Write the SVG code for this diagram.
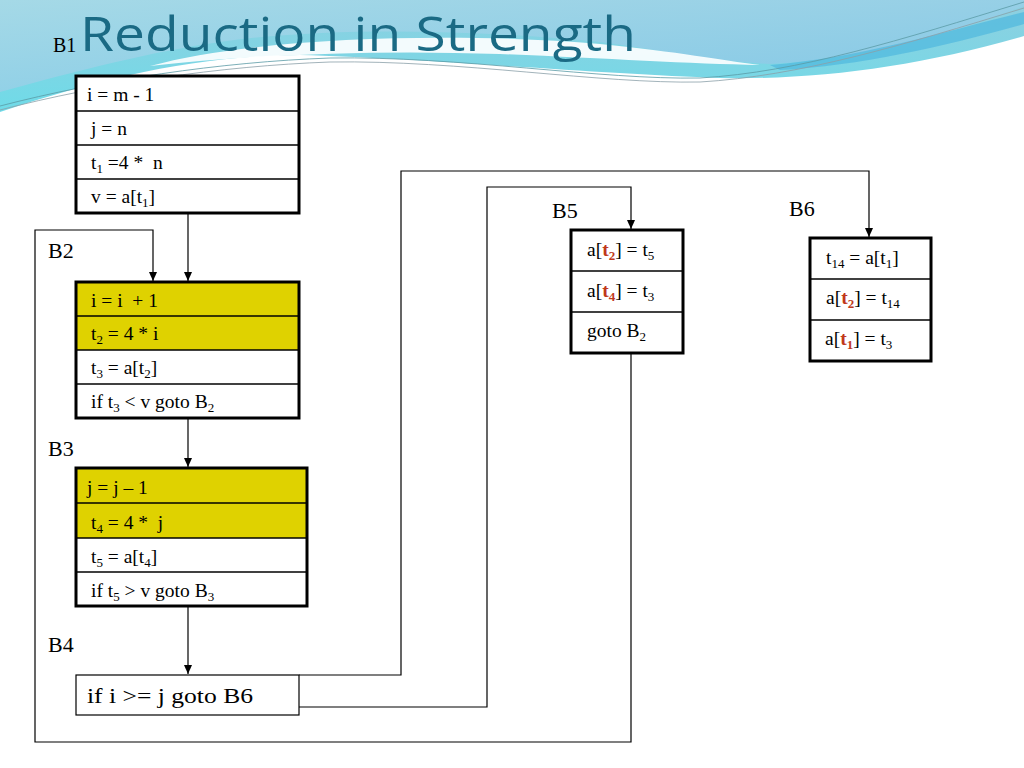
<svg xmlns="http://www.w3.org/2000/svg" width="1024" height="768" viewBox="0 0 1024 768">
<style>
.code{font-family:"Liberation Serif","Times New Roman",serif;font-size:19.5px;fill:#000;white-space:pre}
.lbl{font-family:"Liberation Serif","DejaVu Serif",serif;font-size:22px;fill:#000}
.box{fill:none;stroke:#000;stroke-width:3}
.div{stroke:#000;stroke-width:1.5}
.conn{fill:none;stroke:#000;stroke-width:1.2}
.red{fill:#c0391b;font-weight:bold}
.sub{font-size:13px}
</style>
<defs>
<marker id="arr" markerWidth="10" markerHeight="10" refX="9" refY="5" orient="auto" markerUnits="userSpaceOnUse">
<path d="M0,1 L9,5 L0,9 Z" fill="#000"/>
</marker>
<linearGradient id="gcyan" x1="0" y1="0" x2="0" y2="1">
<stop offset="0" stop-color="#8fcfe0"/>
<stop offset="1" stop-color="#6fdbe8"/>
</linearGradient>
<linearGradient id="gblue" x1="0" y1="0" x2="1" y2="1">
<stop offset="0" stop-color="#a9dbe8"/>
<stop offset="1" stop-color="#86c4e6"/>
</linearGradient>
</defs>
<rect width="1024" height="768" fill="#ffffff"/>
<g id="background">
<path d="M0,0 H1024 V36 C920,66 820,80 720,78 C600,74 420,58 300,55 C200,55 100,78 0,112 Z" fill="url(#gcyan)"/>
<path d="M0,0 H1024 V6 C950,34 860,60 770,64 C700,60 650,48 600,42 C480,30 330,26 220,42 C150,52 80,70 0,92 Z" fill="url(#gblue)" opacity="0.85"/>
<path d="M150,66 C260,36 460,32 600,44 C680,52 720,60 760,65 C690,64 600,58 500,54 C380,50 260,54 150,66 Z" fill="#ffffff" opacity="0.9"/>
<path d="M770,65 C860,58 950,30 1024,12 V24 C950,45 860,66 780,70 Z" fill="#4fb8de" opacity="0.7"/>
<path d="M0,106 C100,80 220,62 330,58 C460,56 600,80 700,78 C800,72 900,40 1024,2" fill="none" stroke="#5a9aa6" stroke-width="0.8"/>
<path d="M0,110 C100,84 220,66 330,62 C460,60 600,84 700,82 C800,76 900,46 1024,8" fill="none" stroke="#8aa0a8" stroke-width="0.8"/>
</g>
<g id="title">
<text x="80" y="51" font-family="Open Sans, Liberation Sans, sans-serif" font-size="47" fill="#1a6a84" textLength="556" lengthAdjust="spacingAndGlyphs">Reduction in Strength</text>
<text x="53" y="52" font-family="Liberation Serif, serif" font-size="20" fill="#000">B1</text>
</g>
<g id="connectors">
<line class="conn" x1="188" y1="213" x2="188" y2="281" marker-end="url(#arr)"/>
<line class="conn" x1="188" y1="418" x2="188" y2="467" marker-end="url(#arr)"/>
<line class="conn" x1="188" y1="606" x2="188" y2="674" marker-end="url(#arr)"/>
<polyline class="conn" points="631,353 631,742 35,742 35,230 153,230 153,281" marker-end="url(#arr)"/>
<polyline class="conn" points="299,675 401,675 401,171 869,171 869,237" marker-end="url(#arr)"/>
<polyline class="conn" points="299,707 487,707 487,187 631,187 631,229" marker-end="url(#arr)"/>
</g>
<g id="B1">
<rect x="76" y="76" width="223" height="137" fill="#fff"/>
<line class="div" x1="76" y1="111" x2="299" y2="111"/>
<line class="div" x1="76" y1="145" x2="299" y2="145"/>
<line class="div" x1="76" y1="179" x2="299" y2="179"/>
<rect class="box" x="76" y="76" width="223" height="137"/>
<text class="code" x="87" y="101">i = m - 1</text>
<text class="code" x="91" y="135">j = n</text>
<text class="code" x="91" y="169">t<tspan class="sub" dy="4">1</tspan><tspan dy="-4"> =4 *  n</tspan></text>
<text class="code" x="91" y="203">v = a[t<tspan class="sub" dy="4">1</tspan><tspan dy="-4">]</tspan></text>
</g>
<g id="B2">
<text class="lbl" x="48" y="258">B2</text>
<rect x="76" y="282" width="223" height="68" fill="#dfd200"/>
<rect x="76" y="350" width="223" height="68" fill="#fff"/>
<line class="div" x1="76" y1="316" x2="299" y2="316"/>
<line class="div" x1="76" y1="350" x2="299" y2="350"/>
<line class="div" x1="76" y1="384" x2="299" y2="384"/>
<rect class="box" x="76" y="282" width="223" height="136"/>
<text class="code" x="91" y="307">i = i  + 1</text>
<text class="code" x="91" y="340">t<tspan class="sub" dy="4">2</tspan><tspan dy="-4"> = 4 * i</tspan></text>
<text class="code" x="91" y="374">t<tspan class="sub" dy="4">3</tspan><tspan dy="-4"> = a[t</tspan><tspan class="sub" dy="4">2</tspan><tspan dy="-4">]</tspan></text>
<text class="code" x="91" y="408">if t<tspan class="sub" dy="4">3</tspan><tspan dy="-4"> &lt; v goto B</tspan><tspan class="sub" dy="4">2</tspan></text>
</g>
<g id="B3">
<text class="lbl" x="48" y="456">B3</text>
<rect x="76" y="468" width="231" height="70" fill="#dfd200"/>
<rect x="76" y="538" width="231" height="68" fill="#fff"/>
<line class="div" x1="76" y1="503" x2="307" y2="503"/>
<line class="div" x1="76" y1="538" x2="307" y2="538"/>
<line class="div" x1="76" y1="572" x2="307" y2="572"/>
<rect class="box" x="76" y="468" width="231" height="138"/>
<text class="code" x="87" y="494">j = j – 1</text>
<text class="code" x="91" y="529">t<tspan class="sub" dy="4">4</tspan><tspan dy="-4"> = 4 *  j</tspan></text>
<text class="code" x="91" y="563">t<tspan class="sub" dy="4">5</tspan><tspan dy="-4"> = a[t</tspan><tspan class="sub" dy="4">4</tspan><tspan dy="-4">]</tspan></text>
<text class="code" x="91" y="597">if t<tspan class="sub" dy="4">5</tspan><tspan dy="-4"> &gt; v goto B</tspan><tspan class="sub" dy="4">3</tspan></text>
</g>
<g id="B4">
<text class="lbl" x="48" y="652">B4</text>
<rect x="76" y="675" width="223" height="40" fill="#fff" stroke="#000" stroke-width="1.2"/>
<text class="lbl" x="87" y="703" font-size="24" textLength="166" lengthAdjust="spacingAndGlyphs">if i &gt;= j goto B6</text>
</g>
<g id="B5">
<text class="lbl" x="552" y="218">B5</text>
<rect x="571" y="230" width="112" height="123" fill="#fff"/>
<line class="div" x1="571" y1="271" x2="683" y2="271"/>
<line class="div" x1="571" y1="312" x2="683" y2="312"/>
<rect class="box" x="571" y="230" width="112" height="123"/>
<text class="code" x="587" y="256">a[<tspan class="red">t<tspan class="sub" dy="4">2</tspan></tspan><tspan dy="-4">] = t</tspan><tspan class="sub" dy="4">5</tspan></text>
<text class="code" x="587" y="297">a[<tspan class="red">t<tspan class="sub" dy="4">4</tspan></tspan><tspan dy="-4">] = t</tspan><tspan class="sub" dy="4">3</tspan></text>
<text class="code" x="587" y="337">goto B<tspan class="sub" dy="4">2</tspan></text>
</g>
<g id="B6">
<text class="lbl" x="789" y="216">B6</text>
<rect x="810" y="238" width="121" height="123" fill="#fff"/>
<line class="div" x1="810" y1="279" x2="931" y2="279"/>
<line class="div" x1="810" y1="320" x2="931" y2="320"/>
<rect class="box" x="810" y="238" width="121" height="123"/>
<text class="code" x="826" y="264">t<tspan class="sub" dy="4">14</tspan><tspan dy="-4"> = a[t</tspan><tspan class="sub" dy="4">1</tspan><tspan dy="-4">]</tspan></text>
<text class="code" x="826" y="304">a[<tspan class="red">t<tspan class="sub" dy="4">2</tspan></tspan><tspan dy="-4">] = t</tspan><tspan class="sub" dy="4">14</tspan></text>
<text class="code" x="825" y="345">a[<tspan class="red">t<tspan class="sub" dy="4">1</tspan></tspan><tspan dy="-4">] = t</tspan><tspan class="sub" dy="4">3</tspan></text>
</g>
</svg>
